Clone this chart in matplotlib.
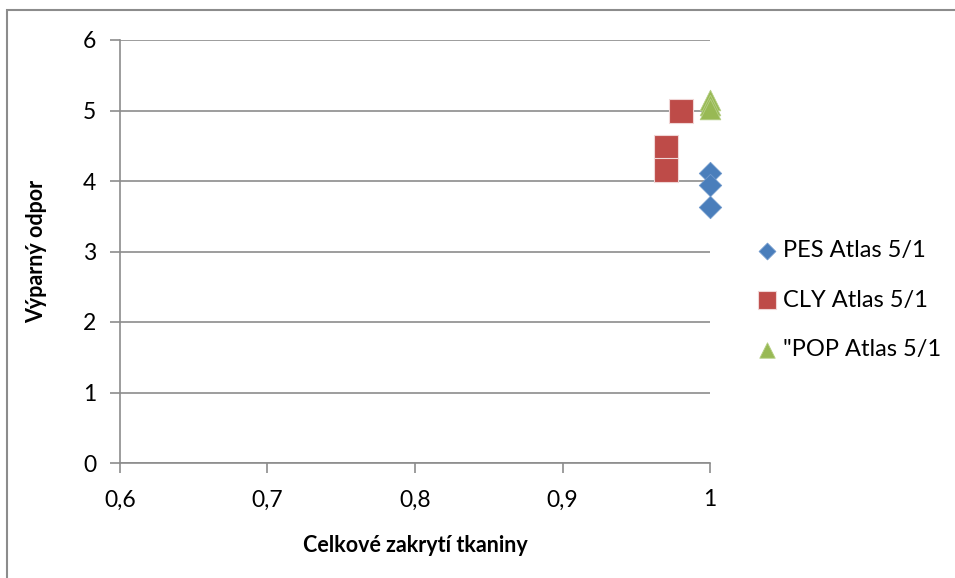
import matplotlib
matplotlib.use("Agg")
import matplotlib.pyplot as plt
from matplotlib.patches import Rectangle

plt.rcParams['font.family'] = ['Lato', 'DejaVu Sans']

# coverage vs. evaporative resistance, three fabric samples
pes_x = [1.0, 1.0, 1.0]
pes_y = [4.11, 3.94, 3.63]
cly_x = [0.98, 0.97, 0.97]
cly_y = [5.0, 4.48, 4.16]
pop_x = [1.0, 1.0, 1.0]
pop_y = [5.15, 5.08, 5.02]

x_ticks = [0.6, 0.7, 0.8, 0.9, 1.0]
y_ticks = [0, 1, 2, 3, 4, 5, 6]

W, H = 955, 578
fig = plt.figure(figsize=(W / 100, H / 100), dpi=100)
ax = fig.add_axes([120 / W, 1 - 463 / H, 590 / W, 423 / H])

# outer chart frame (left and top edges only fall inside the image)
fig.patches.append(Rectangle((7 / W, -0.1), 1.2, 1 - 10 / H + 0.1,
                             transform=fig.transFigure, fill=False,
                             edgecolor='#8c8c8c', linewidth=1.5))

ax.scatter(pes_x, pes_y, marker='D', s=130, color='#4a7ebb', label='PES Atlas 5/1',
           zorder=3, linewidths=0.6, edgecolors='#6f98cc', clip_on=False)
ax.scatter(cly_x, cly_y, marker='s', s=280, color='#be4b48', label='CLY Atlas 5/1',
           zorder=3, linewidths=0.8, edgecolors='#f0d6d6', clip_on=False)
ax.scatter(pop_x, pop_y, marker='^', s=220, color='#98b954', label='"POP Atlas 5/1',
           zorder=3, linewidths=0.6, edgecolors='#b5cf84', clip_on=False)

ax.set_xlim(0.6, 1.0)
ax.set_ylim(0, 6)
ax.set_xticks(x_ticks)
ax.set_xticklabels([('%g' % v).replace('.', ',') for v in x_ticks])
ax.set_yticks(y_ticks)
ax.yaxis.grid(True, color='#8c8c8c', linewidth=1.2)
ax.set_axisbelow(True)

for side in ['top', 'right']:
    ax.spines[side].set_visible(False)
for side in ['left', 'bottom']:
    ax.spines[side].set_color('#8c8c8c')
    ax.spines[side].set_linewidth(1.2)
ax.tick_params(axis='both', direction='out', length=7, width=1.2, color='#8c8c8c',
               labelsize=16.5, pad=10)
ax.tick_params(axis='x', pad=12)

ax.set_xlabel('Celkové zakrytí tkaniny', fontsize=15.5, fontweight='bold', labelpad=18)
ax.set_ylabel('Výparný odpor', fontsize=15.5, fontweight='bold', labelpad=26)

ax.legend(loc='center left', bbox_to_anchor=(1.055, 0.385), frameon=False,
          fontsize=17, handletextpad=0.0, handlelength=1.3, labelspacing=1.2,
          markerscale=0.75, borderaxespad=0)

fig.savefig('out.png', dpi=100, facecolor='white')
